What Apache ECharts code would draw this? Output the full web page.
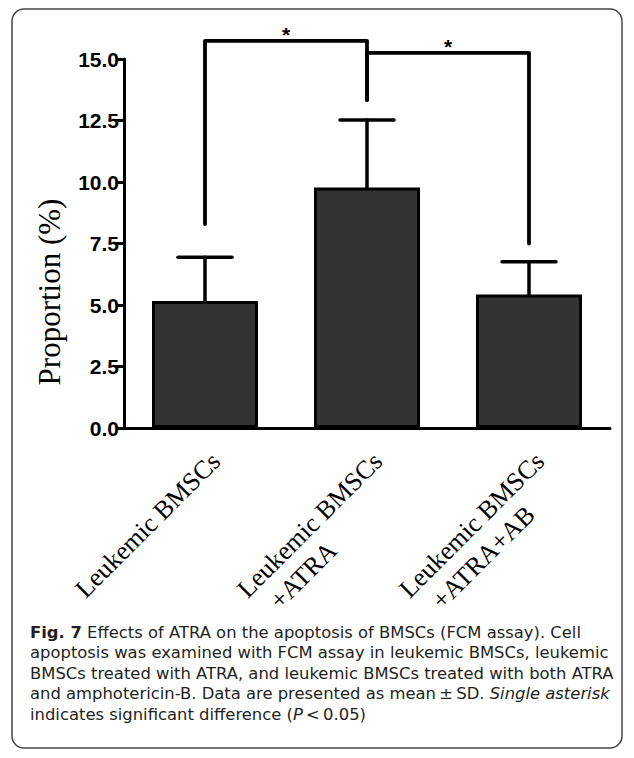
<!DOCTYPE html>
<html>
<head>
<meta charset="utf-8">
<script src="https://cdn.jsdelivr.net/npm/echarts@6/dist/echarts.min.js"></script>
<style>
html,body{margin:0;padding:0;background:#fff;}
#chart{width:634px;height:758px;}
</style>
</head>
<body>
<div id="chart"></div>
<script>
// ---- data ----
const categories = ['Leukemic BMSCs', 'Leukemic BMSCs\n+ATRA', 'Leukemic BMSCs\n+ATRA+AB'];
const means = [5.16, 9.78, 5.43];
const sds = [1.78, 2.74, 1.33];
// brackets: [leftIndex, rightIndex, topValue, leftLegEnd, rightLegEnd]
const brackets = [[0, 1, 15.74, 8.29, 13.33], [1, 2, 15.25, 13.33, 7.5]];
const bracketMarks = ['*', '*'];
const yAxisTitle = 'Proportion (%)';
const captionBold = 'Fig. 7';
const captionLines = [
  ' Effects of ATRA on the apoptosis of BMSCs (FCM assay). Cell',
  'apoptosis was examined with FCM assay in leukemic BMSCs, leukemic',
  'BMSCs treated with ATRA, and leukemic BMSCs treated with both ATRA',
  'and amphotericin-B. Data are presented as mean\u2009\u00b1\u2009SD. ',
  'indicates significant difference ('
];

const chart = echarts.init(document.getElementById('chart'), null, {renderer: 'svg'});

const capFont = '"DejaVu Sans", "Noto Sans", sans-serif';
const capSize = 16.4;
const capX = 30;
const capY0 = 632;
const capLH = 20.5;
const capColor = '#231f20';
const serif = '"Liberation Serif", "Times New Roman", serif';
const sans = '"Liberation Sans", Arial, sans-serif';

const option = {
  animation: false,
  backgroundColor: '#fff',
  grid: {left: 124, right: 24, top: 59, bottom: 330, containLabel: false},
  xAxis: {
    type: 'category',
    data: categories,
    axisLine: {lineStyle: {color: '#000', width: 3}},
    axisTick: {alignWithLabel: true, length: 10, lineStyle: {color: '#000', width: 3}},
    axisLabel: {
      rotate: 45,
      margin: 18,
      interval: 0,
      verticalAlign: 'top',
      color: '#000',
      formatter: v => v.split('\n').map((s, i) => (i === 0 ? '{a|' : '{b|') + s + '}').join('\n'),
      rich: {
        a: {fontFamily: serif, fontSize: 26, color: '#000', align: 'left', lineHeight: 31},
        b: {fontFamily: serif, fontSize: 26, color: '#000', align: 'left', lineHeight: 31, padding: [0, 0, 0, 15]}
      }
    }
  },
  yAxis: {
    type: 'value',
    min: 0, max: 15, interval: 2.5,
    axisLine: {show: true, lineStyle: {color: '#000', width: 3}},
    axisTick: {show: true, length: 8, lineStyle: {color: '#000', width: 3}},
    splitLine: {show: false},
    axisLabel: {
      color: '#000', fontFamily: sans, fontWeight: 'bold', fontSize: 21, margin: 5,
      formatter: v => v.toFixed(1)
    }
  },
  series: [
    {
      type: 'bar',
      data: means,
      barWidth: 106,
      itemStyle: {color: '#333333', borderColor: '#000', borderWidth: 3},
      z: 2
    },
    {
      type: 'custom',
      clip: false,
      z: 3,
      data: means.map((m, i) => [i, m, sds[i]]),
      renderItem: function (params, api) {
        const x = api.value(0), m = api.value(1), s = api.value(2);
        const base = api.coord([x, m]);
        const top = api.coord([x, m + s]);
        const half = 27;
        const st = {stroke: '#000', lineWidth: 3.5, lineCap: 'round'};
        return {type: 'group', children: [
          {type: 'line', shape: {x1: base[0], y1: base[1], x2: top[0], y2: top[1]}, style: st},
          {type: 'line', shape: {x1: top[0] - half, y1: top[1], x2: top[0] + half, y2: top[1]}, style: st}
        ]};
      }
    },
    {
      type: 'custom',
      clip: false,
      z: 4,
      data: brackets,
      renderItem: function (params, api) {
        const l = api.value(0), r = api.value(1), t = api.value(2), lb = api.value(3), rb = api.value(4);
        const p1 = api.coord([l, lb]);
        const p2 = api.coord([l, t]);
        const p3 = api.coord([r, t]);
        const p4 = api.coord([r, rb]);
        return {type: 'group', children: [
          {type: 'polyline', shape: {points: [p1, p2, p3, p4]}, style: {stroke: '#000', lineWidth: 3.8, fill: null, lineJoin: 'round', lineCap: 'round'}},
          {type: 'text', style: {text: bracketMarks[params.dataIndex], x: (p2[0] + p3[0]) / 2, y: p2[1] - 6,
            textAlign: 'center', textVerticalAlign: 'middle', fontFamily: sans, fontWeight: 'bold', fontSize: 21, fill: '#000'}}
        ]};
      }
    }
  ],
  graphic: [
    {type: 'rect', shape: {x: 12, y: 9, width: 610, height: 739, r: 12}, style: {fill: null, stroke: '#444', lineWidth: 1.5}, silent: true},
    {type: 'text', x: 49, y: 292, rotation: Math.PI / 2,
      style: {text: yAxisTitle, textAlign: 'center', textVerticalAlign: 'middle', fontFamily: serif, fontSize: 31, fill: '#000'}},
    {type: 'text', x: capX, y: capY0,
      style: {text: '{b|' + captionBold + '}{r|' + captionLines[0] + '}', textVerticalAlign: 'middle',
        rich: {b: {fontFamily: capFont, fontSize: capSize, fontWeight: 'bold', fill: capColor}, r: {fontFamily: capFont, fontSize: capSize, fill: capColor}}}},
    {type: 'text', x: capX, y: capY0 + capLH,
      style: {text: captionLines[1], textVerticalAlign: 'middle', fontFamily: capFont, fontSize: capSize, fill: capColor}},
    {type: 'text', x: capX, y: capY0 + 2 * capLH,
      style: {text: captionLines[2], textVerticalAlign: 'middle', fontFamily: capFont, fontSize: capSize, fill: capColor}},
    {type: 'text', x: capX, y: capY0 + 3 * capLH,
      style: {text: '{r|' + captionLines[3] + '}{i|Single asterisk}', textVerticalAlign: 'middle',
        rich: {r: {fontFamily: capFont, fontSize: capSize, fill: capColor}, i: {fontFamily: capFont, fontSize: capSize, fontStyle: 'italic', fill: capColor}}}},
    {type: 'text', x: capX, y: capY0 + 4 * capLH,
      style: {text: '{r|' + captionLines[4] + '}{i|P}{r|\u2009<\u20090.05)}', textVerticalAlign: 'middle',
        rich: {r: {fontFamily: capFont, fontSize: capSize, fill: capColor}, i: {fontFamily: capFont, fontSize: capSize, fontStyle: 'italic', fill: capColor}}}}
  ]
};
chart.setOption(option);
</script>
</body>
</html>
